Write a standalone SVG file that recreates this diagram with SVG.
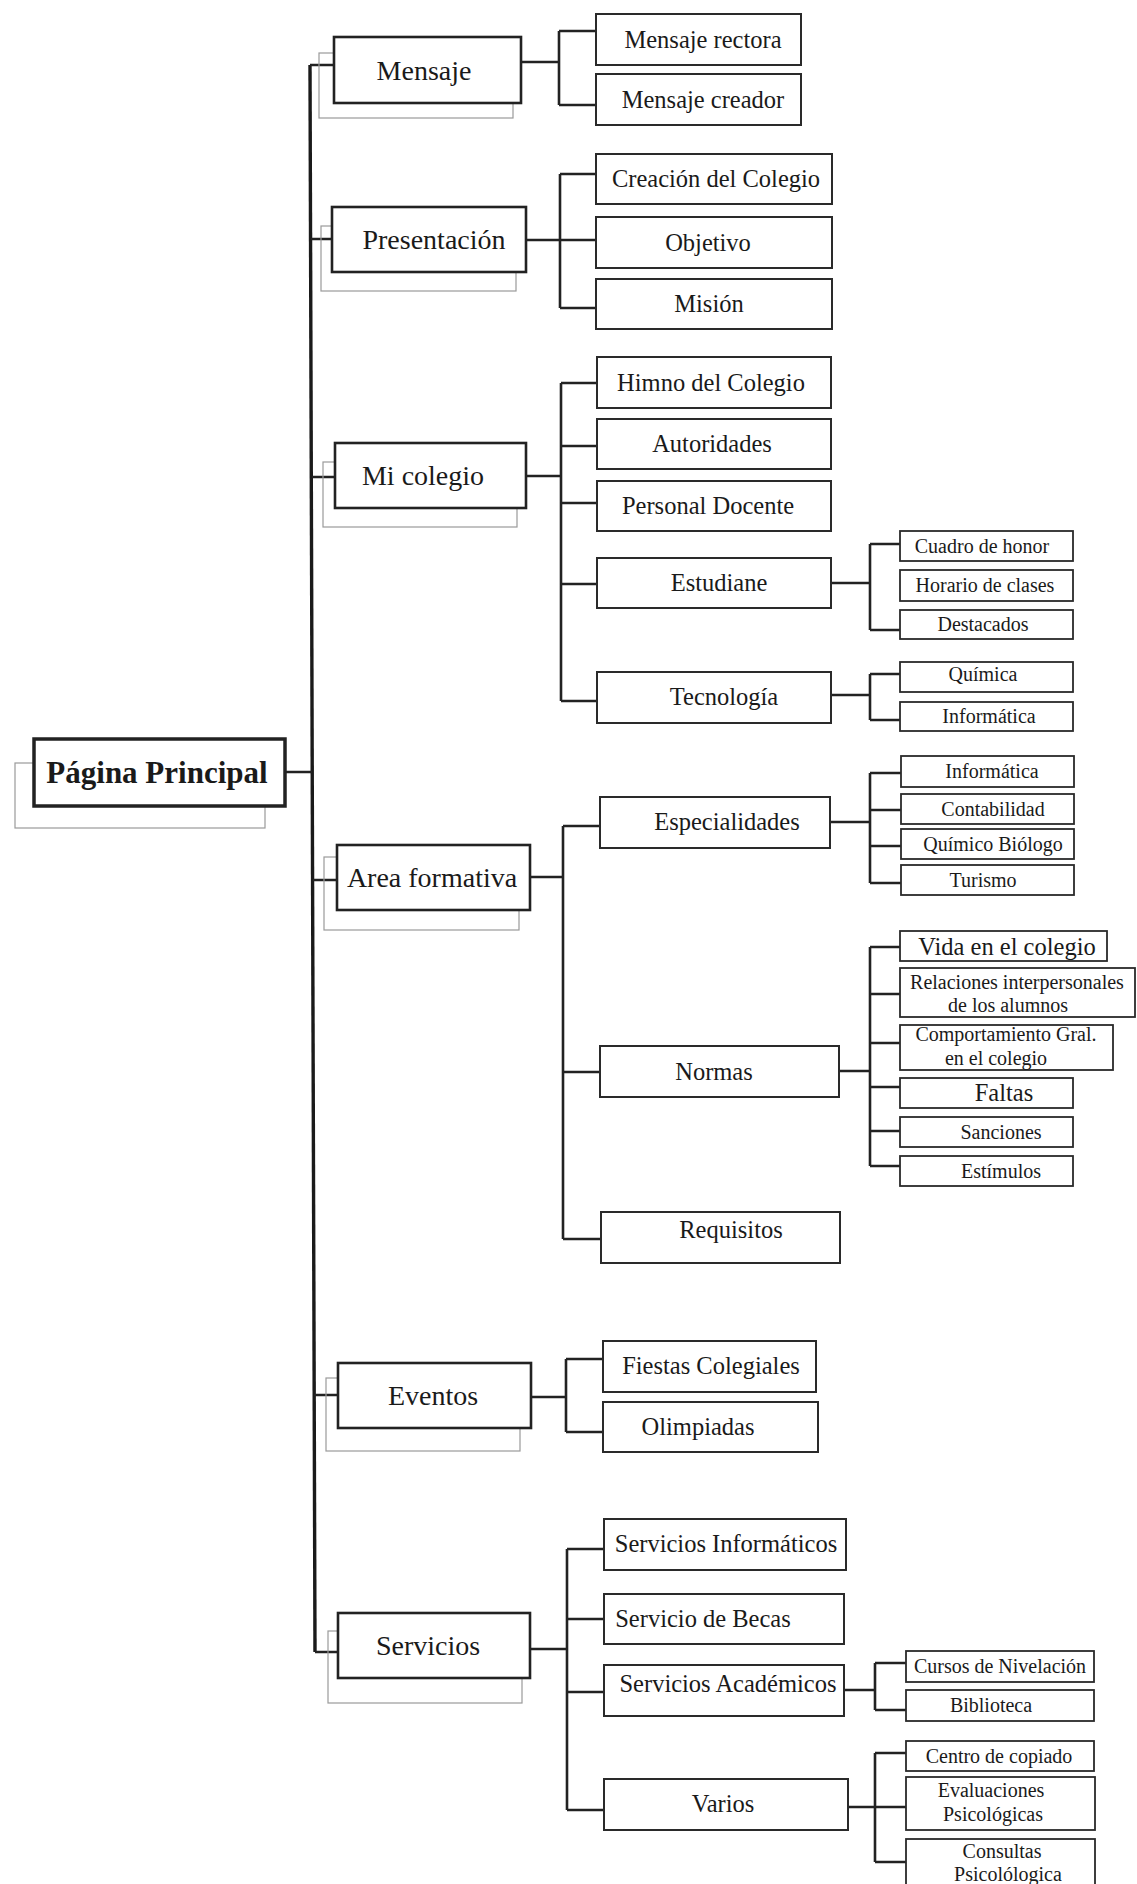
<svg xmlns="http://www.w3.org/2000/svg" width="1137" height="1884" viewBox="0 0 1137 1884">
<style>
.sh{fill:none;stroke:#9a9a9a;stroke-width:1.2}
.b0{fill:#fff;stroke:#222;stroke-width:3.5}
.b1{fill:#fff;stroke:#222;stroke-width:2.6}
.b2{fill:#fff;stroke:#2a2a2a;stroke-width:2}
.b3{fill:#fff;stroke:#2a2a2a;stroke-width:1.8}
.ln{fill:none;stroke:#222;stroke-width:2.6}
.tr{fill:none;stroke:#1a1a1a;stroke-width:3.4}
text{font-family:"Liberation Serif","Times New Roman",serif;fill:#1a1a1a;text-anchor:middle}
.t0{font-size:31px;font-weight:bold}
.t1{font-size:28px}
.t2{font-size:24.5px}
.t3{font-size:20px}
.t3l{font-size:24.5px}
</style>
<rect width="1137" height="1884" fill="#fff"/>
<g id="connectors">
<path class="tr" d="M310,65 L315,1652"/>
<path class="ln" d="M285,772 H312 M310,65 H334 M311,239 H332 M312,477 H335 M313,880 H337 M314,1395 H338 M315,1652 H338"/>
<path class="ln" d="M521,62 H559 M559,31 V105 M559,31 H596 M559,105 H596"/>
<path class="ln" d="M526,240 H596 M560,174 V308 M560,174 H596 M560,308 H596"/>
<path class="ln" d="M526,476 H561 M561,383 V701 M561,383 H597 M561,446 H597 M561,503 H597 M561,584 H597 M561,701 H597"/>
<path class="ln" d="M831,583 H870 M870,544 V630 M870,544 H900 M870,630 H900"/>
<path class="ln" d="M831,695 H870 M870,674 V720 M870,674 H900 M870,720 H900"/>
<path class="ln" d="M530,877 H563 M563,826 V1239 M563,826 H600 M563,1072 H600 M563,1239 H601"/>
<path class="ln" d="M830,822 H870 M870,773 V883 M870,773 H901 M870,810 H901 M870,846 H901 M870,883 H901"/>
<path class="ln" d="M839,1071 H870 M870,947 V1166 M870,947 H900 M870,994 H900 M870,1043 H900 M870,1087 H900 M870,1131 H900 M870,1166 H900"/>
<path class="ln" d="M531,1397 H566 M566,1359 V1432 M566,1359 H603 M566,1432 H603"/>
<path class="ln" d="M530,1649 H567 M567,1549 V1810 M567,1549 H604 M567,1619 H604 M567,1692 H604 M567,1810 H604"/>
<path class="ln" d="M844,1690 H875 M875,1663 V1710 M875,1663 H906 M875,1710 H906"/>
<path class="ln" d="M848,1807 H906 M875,1753 V1862 M875,1753 H906 M875,1862 H906"/>
</g>
<g id="n-principal"><rect class="sh" x="15" y="763" width="250" height="65"/><rect class="b0" x="34" y="739" width="251" height="67"/><text class="t0" x="157" y="783">Página Principal</text></g>
<g id="n-mensaje"><rect class="sh" x="319" y="53" width="194" height="65"/><rect class="b1" x="334" y="37" width="187" height="66"/><text class="t1" x="424" y="80">Mensaje</text></g>
<g id="n-presentacion"><rect class="sh" x="321" y="226" width="195" height="65"/><rect class="b1" x="332" y="207" width="194" height="65"/><text class="t1" x="434" y="249">Presentación</text></g>
<g id="n-micolegio"><rect class="sh" x="323" y="462" width="194" height="65"/><rect class="b1" x="335" y="443" width="191" height="65"/><text class="t1" x="423" y="485">Mi colegio</text></g>
<g id="n-area"><rect class="sh" x="324" y="857" width="195" height="73"/><rect class="b1" x="337" y="845" width="193" height="65"/><text class="t1" x="432" y="887">Area formativa</text></g>
<g id="n-eventos"><rect class="sh" x="326" y="1378" width="194" height="73"/><rect class="b1" x="338" y="1363" width="193" height="65"/><text class="t1" x="433" y="1405">Eventos</text></g>
<g id="n-servicios"><rect class="sh" x="328" y="1631" width="194" height="72"/><rect class="b1" x="338" y="1613" width="192" height="65"/><text class="t1" x="428" y="1655">Servicios</text></g>
<g id="n-mrectora"><rect class="b2" x="596" y="14" width="205" height="51"/><text class="t2" x="703" y="48">Mensaje rectora</text></g>
<g id="n-mcreador"><rect class="b2" x="596" y="74" width="205" height="51"/><text class="t2" x="703" y="108">Mensaje creador</text></g>
<g id="n-creacion"><rect class="b2" x="596" y="154" width="236" height="50"/><text class="t2" x="716" y="187">Creación del Colegio</text></g>
<g id="n-objetivo"><rect class="b2" x="596" y="217" width="236" height="51"/><text class="t2" x="708" y="251">Objetivo</text></g>
<g id="n-mision"><rect class="b2" x="596" y="279" width="236" height="50"/><text class="t2" x="709" y="312">Misión</text></g>
<g id="n-himno"><rect class="b2" x="597" y="357" width="234" height="51"/><text class="t2" x="711" y="391">Himno del Colegio</text></g>
<g id="n-autoridades"><rect class="b2" x="597" y="419" width="234" height="50"/><text class="t2" x="712" y="452">Autoridades</text></g>
<g id="n-personal"><rect class="b2" x="597" y="481" width="234" height="50"/><text class="t2" x="708" y="514">Personal Docente</text></g>
<g id="n-estudiane"><rect class="b2" x="597" y="558" width="234" height="50"/><text class="t2" x="719" y="591">Estudiane</text></g>
<g id="n-tecnologia"><rect class="b2" x="597" y="672" width="234" height="51"/><text class="t2" x="724" y="705">Tecnología</text></g>
<g id="n-cuadro"><rect class="b3" x="900" y="531" width="173" height="30"/><text class="t3" x="982" y="553">Cuadro de honor</text></g>
<g id="n-horario"><rect class="b3" x="900" y="570" width="173" height="31"/><text class="t3" x="985" y="592">Horario de clases</text></g>
<g id="n-destacados"><rect class="b3" x="900" y="610" width="173" height="29"/><text class="t3" x="983" y="631">Destacados</text></g>
<g id="n-quimica"><rect class="b3" x="900" y="662" width="173" height="30"/><text class="t3" x="983" y="681">Química</text></g>
<g id="n-informatica1"><rect class="b3" x="900" y="702" width="173" height="29"/><text class="t3" x="989" y="723">Informática</text></g>
<g id="n-especialidades"><rect class="b2" x="600" y="797" width="230" height="51"/><text class="t2" x="727" y="830">Especialidades</text></g>
<g id="n-informatica2"><rect class="b3" x="901" y="756" width="173" height="31"/><text class="t3" x="992" y="778">Informática</text></g>
<g id="n-contabilidad"><rect class="b3" x="901" y="794" width="173" height="30"/><text class="t3" x="993" y="816">Contabilidad</text></g>
<g id="n-quimicobio"><rect class="b3" x="901" y="829" width="173" height="30"/><text class="t3" x="993" y="851">Químico Biólogo</text></g>
<g id="n-turismo"><rect class="b3" x="901" y="865" width="173" height="30"/><text class="t3" x="983" y="887">Turismo</text></g>
<g id="n-normas"><rect class="b2" x="600" y="1046" width="239" height="51"/><text class="t2" x="714" y="1080">Normas</text></g>
<g id="n-vida"><rect class="b3" x="900" y="931" width="207" height="30"/><text class="t3l" x="1007" y="955">Vida en el colegio</text></g>
<g id="n-relaciones"><rect class="b3" x="900" y="968" width="235" height="49"/><text class="t3" x="1017" y="989">Relaciones interpersonales</text><text class="t3" x="1008" y="1012">de los alumnos</text></g>
<g id="n-comportamiento"><rect class="b3" x="900" y="1025" width="213" height="45"/><text class="t3" x="1006" y="1041">Comportamiento Gral.</text><text class="t3" x="996" y="1065">en el colegio</text></g>
<g id="n-faltas"><rect class="b3" x="900" y="1078" width="173" height="30"/><text class="t3l" x="1004" y="1101">Faltas</text></g>
<g id="n-sanciones"><rect class="b3" x="900" y="1117" width="173" height="30"/><text class="t3" x="1001" y="1139">Sanciones</text></g>
<g id="n-estimulos"><rect class="b3" x="900" y="1156" width="173" height="30"/><text class="t3" x="1001" y="1178">Estímulos</text></g>
<g id="n-requisitos"><rect class="b2" x="601" y="1212" width="239" height="51"/><text class="t2" x="731" y="1238">Requisitos</text></g>
<g id="n-fiestas"><rect class="b2" x="603" y="1341" width="213" height="51"/><text class="t2" x="711" y="1374">Fiestas Colegiales</text></g>
<g id="n-olimpiadas"><rect class="b2" x="603" y="1402" width="215" height="50"/><text class="t2" x="698" y="1435">Olimpiadas</text></g>
<g id="n-servinf"><rect class="b2" x="604" y="1519" width="242" height="51"/><text class="t2" x="726" y="1552">Servicios Informáticos</text></g>
<g id="n-becas"><rect class="b2" x="604" y="1594" width="240" height="50"/><text class="t2" x="703" y="1627">Servicio de Becas</text></g>
<g id="n-servacad"><rect class="b2" x="604" y="1665" width="240" height="51"/><text class="t2" x="728" y="1692">Servicios Académicos</text></g>
<g id="n-varios"><rect class="b2" x="604" y="1779" width="244" height="51"/><text class="t2" x="723" y="1812">Varios</text></g>
<g id="n-cursos"><rect class="b3" x="906" y="1651" width="188" height="31"/><text class="t3" x="1000" y="1673">Cursos de Nivelación</text></g>
<g id="n-biblioteca"><rect class="b3" x="906" y="1690" width="188" height="31"/><text class="t3" x="991" y="1712">Biblioteca</text></g>
<g id="n-centro"><rect class="b3" x="906" y="1741" width="188" height="30"/><text class="t3" x="999" y="1763">Centro de copiado</text></g>
<g id="n-evaluaciones"><rect class="b3" x="906" y="1777" width="189" height="53"/><text class="t3" x="991" y="1797">Evaluaciones</text><text class="t3" x="993" y="1821">Psicológicas</text></g>
<g id="n-consultas"><rect class="b3" x="906" y="1839" width="189" height="52"/><text class="t3" x="1002" y="1858">Consultas</text><text class="t3" x="1008" y="1881">Psicolólogica</text></g>
</svg>
